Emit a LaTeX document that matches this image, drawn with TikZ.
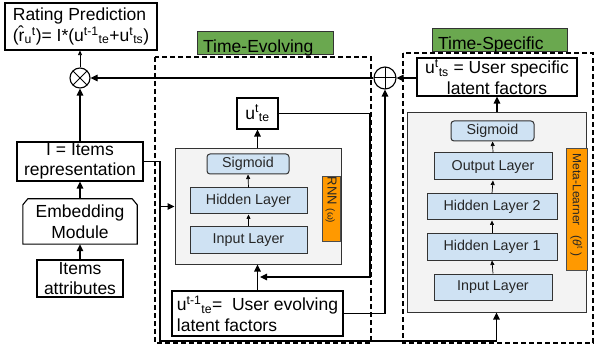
\documentclass[tikz,border=0pt]{standalone}
\usepackage{fontspec}
\setmainfont{Liberation Sans}
\usetikzlibrary{arrows.meta}
\definecolor{lblue}{HTML}{CFE2F3}
\definecolor{lgray}{HTML}{F3F3F3}
\definecolor{orng}{HTML}{FF9900}
\definecolor{grn}{HTML}{6AA84F}
\tikzset{
 box/.style={draw=black, line width=1.1pt, fill=white, inner sep=0pt, align=center, font=\fontsize{17.5}{20.5}\selectfont},
 layer/.style={draw=black!80, line width=1pt, fill=lblue, inner sep=0pt, font=\fontsize{14.3}{16}\selectfont, text=black!85},
 grayb/.style={draw=black!80, line width=1pt, fill=lgray, inner sep=0pt},
 orangeb/.style={draw=black!70, line width=0.6pt, fill=orng, inner sep=0pt},
 greenb/.style={draw=black!80, line width=0.8pt, fill=grn, inner sep=0pt},
 dashbox/.style={draw=black, line width=1.1pt, dash pattern=on 5pt off 3pt},
 conn/.style={line width=1.1pt, -{Triangle[length=7pt,width=6.5pt]}},
 sconn/.style={line width=0.7pt, -{Triangle[length=4.5pt,width=4pt]}},
 opcircle/.style={circle, draw=black, line width=1.1pt, inner sep=0pt, fill=white},
}
\begin{document}
\begin{tikzpicture}[x=1pt,y=-1pt]
\useasboundingbox (0,0) rectangle (595,350);
% dashed group boxes
\draw[dashbox] (155,57) rectangle (371,343);
\draw[dashbox] (403,53) rectangle (593,343);
% green labels
\node[greenb, minimum width=136pt, minimum height=23pt] (teg) at (265,42.5) {};
\node[anchor=base west, inner sep=0pt, font=\fontsize{17.5}{20}\selectfont] (tet) at (203,52.5) {Time-Evolving};
\node[greenb, minimum width=135pt, minimum height=23pt] (tsg) at (499.5,39.5) {};
\node[anchor=base west, inner sep=0pt, font=\fontsize{17.5}{20}\selectfont] (tst) at (438,49.5) {Time-Specific};

% left column
\node[box, minimum width=152pt, minimum height=47pt, align=left] (rating) at (81,26.5)
  {Rating Prediction\\(r̂\textsubscript{u}\textsuperscript{t})= I*(u\textsuperscript{t-1}\textsubscript{te}+u\textsuperscript{t}\textsubscript{ts})};
\node[opcircle, minimum size=20pt, path picture={\draw[line width=1pt]
  (path picture bounding box.north west) -- (path picture bounding box.south east)
  (path picture bounding box.north east) -- (path picture bounding box.south west);}] (otimes) at (80,78) {};
\node[box, minimum width=126pt, minimum height=39pt] (I) at (80,161.5) {I = Items\\representation};
\node[inner sep=0pt, minimum width=114pt, minimum height=45pt, align=center, font=\fontsize{17.5}{20.5}\selectfont] (embed) at (80,221.5) {Embedding\\Module};
\draw[line width=1.1pt] ([xshift=5pt]embed.north west) -- ([xshift=-5pt]embed.north east) -- ([yshift=-6pt]embed.north east) -- (embed.south east) -- (embed.south west) -- ([yshift=-6pt]embed.north west) -- cycle;
\node[box, minimum width=86pt, minimum height=37pt] (attr) at (80,278.5) {Items\\attributes};

% time-evolving part
\node[grayb, minimum width=166pt, minimum height=115pt] (rnn) at (258,206.5) {};
\node[layer, rounded corners=3pt, minimum width=82pt, minimum height=20pt] (sig1) at (248,164) {Sigmoid};
\node[layer, minimum width=117pt, minimum height=26pt] (hid1) at (248.5,201) {Hidden Layer};
\node[layer, minimum width=117pt, minimum height=26pt] (inp1) at (248.5,240) {Input Layer};
\node[orangeb, minimum width=18pt, minimum height=65pt] (rnnlab) at (331,208.5) {};
\node[rotate=-90, anchor=west, inner sep=0pt, font=\fontsize{13}{15}\selectfont, text=black!85] (rnntxt) at ([yshift=-1pt]rnnlab.north) {RNN {\fontsize{10}{12}\selectfont(ω)}};
\node[box, minimum width=41pt, minimum height=31pt] (ute) at (257.5,113.5) {u\textsuperscript{t}\textsubscript{te}};
\node[box, minimum width=171pt, minimum height=45pt, align=left] (uprev) at (257.5,313.5)
  {u\textsuperscript{t-1}\textsubscript{te}=\ \ User evolving\\latent factors};

% time-specific part
\node[box, minimum width=160pt, minimum height=38pt] (uts) at (497,77) {u\textsuperscript{t}\textsubscript{ts} = User specific\\latent factors};
\node[opcircle, minimum size=22pt, path picture={\draw[line width=1pt]
  (path picture bounding box.north) -- (path picture bounding box.south)
  (path picture bounding box.east) -- (path picture bounding box.west);}] (oplus) at (385,78) {};
\node[grayb, minimum width=179pt, minimum height=199pt] (meta) at (496.5,212.5) {};
\node[layer, rounded corners=3pt, minimum width=83pt, minimum height=20pt] (sig2) at (492.5,131) {Sigmoid};
\node[layer, minimum width=118pt, minimum height=27pt] (out2) at (493,166.5) {Output Layer};
\node[layer, minimum width=130pt, minimum height=26pt] (h22) at (492,207) {Hidden Layer 2};
\node[layer, minimum width=130pt, minimum height=26pt] (h12) at (492,247) {Hidden Layer 1};
\node[layer, minimum width=118pt, minimum height=26pt] (inp2) at (493,287) {Input Layer};
\node[orangeb, minimum width=21pt, minimum height=122pt] (metalab) at (576.5,209) {};
\node[rotate=-90, anchor=west, inner sep=0pt, font=\fontsize{12}{14}\selectfont, text=black!85] (metatxt) at ([yshift=-6pt]metalab.north) {Meta-Learner\ \ \ (\textit{θ}\textsuperscript{t} )};

% connectors left
\draw[sconn] (otimes.north) -- (otimes.north |- rating.south);
\draw[conn] (I.north) -- (otimes.south);
\draw[conn] (embed.north) -- (I.south);
\draw[conn] (attr.north) -- (embed.south);
\draw[conn] (oplus.west) -- (otimes.east);
\draw[conn] (uts.west |- oplus.east) -- (oplus.east);
\draw[conn] (uts.south |- meta.north) -- (uts.south);

% item representation feeds
\coordinate (bend1) at (160,341);
\draw[conn] (I.east) -| (bend1) -| (meta.south);
\draw[conn] (bend1 |- rnn.west) -- (rnn.west);

% rnn internals
\draw[sconn] (inp1.north) -- (hid1.south);
\draw[sconn] (hid1.north) -- (sig1.south);
\draw[conn] (ute.south |- rnn.north) -- (ute.south);
\coordinate (c2) at (370,277);
\coordinate (c3) at (260,277);
\draw[conn] (ute.east) -| (c2) -- (c3);
\draw[conn] (uprev.north) -- (uprev.north |- rnn.south);
\draw[conn] (uprev.east) -| (oplus.south);

% meta internals
\draw[sconn] (inp2.north) -- (h12.south);
\draw[sconn] (h12.north) -- (h22.south);
\draw[sconn] (h22.north) -- (out2.south);
\draw[sconn] (out2.north) -- (sig2.south);
\end{tikzpicture}
\end{document}
